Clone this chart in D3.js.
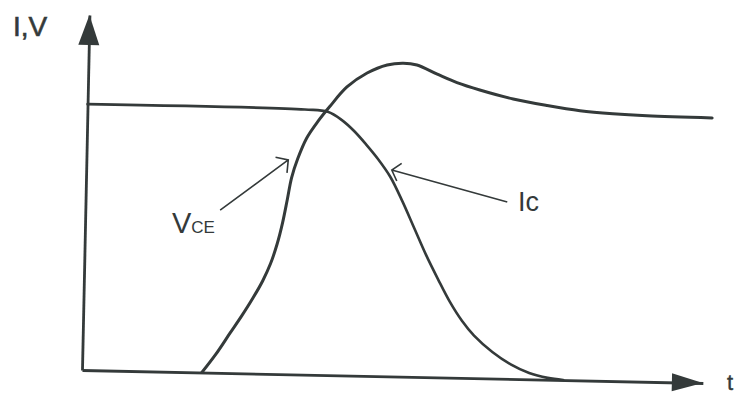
<!DOCTYPE html>
<html>
<head>
<meta charset="utf-8">
<script src="https://cdn.jsdelivr.net/npm/d3@7"></script>
<style>
  html, body { margin: 0; padding: 0; background: #ffffff; }
  svg { display: block; }
</style>
</head>
<body>
<svg id="chart" width="739" height="394"></svg>
<script>
// Turn-off transient: collector current falls while collector-emitter voltage
// rises, overshoots and settles. Values are normalised to the on-state level.
const icTime  = [0, 3.50, 3.87, 4.10, 4.30, 4.50, 4.70, 4.90, 5.10, 5.30, 5.50, 5.70, 5.90, 6.10, 6.30, 6.60, 6.90, 7.20, 7.50, 7.75];
const icValue = [1.0, 0.997, 0.99, 0.96, 0.92, 0.87, 0.815, 0.75, 0.66, 0.56, 0.46, 0.37, 0.285, 0.215, 0.16, 0.10, 0.055, 0.024, 0.007, 0];

const vceTime  = [1.93, 2.15, 2.37, 2.55, 2.73, 2.88, 3.00, 3.10, 3.18, 3.25, 3.31, 3.40, 3.54, 3.72, 3.90, 4.17, 4.49, 4.81, 5.07, 5.29, 5.62, 5.94, 6.31, 6.85, 7.40, 7.93, 8.46, 9.01, 10.06];
const vceValue = [0, 0.07, 0.15, 0.215, 0.285, 0.35, 0.415, 0.49, 0.57, 0.66, 0.74, 0.81, 0.89, 0.955, 1.01, 1.085, 1.139, 1.171, 1.179, 1.173, 1.14, 1.11, 1.084, 1.053, 1.031, 1.014, 1.005, 1.0, 0.997];

const axisLabelY = "I,V";
const axisLabelX = "t";

const ink = "#343a3a";
const svg = d3.select("#chart");

const x = d3.scaleLinear().domain([0, 10]).range([0, 621]);
const y = d3.scaleLinear().domain([0, 1.335]).range([0, -355]);

// plot frame, slightly tilted like the original drawing
const g = svg.append("g").attr("transform", "translate(82,370) rotate(1.2)");

// axes without ticks, arrow heads at the far ends
const xAxis = g.append("g").call(d3.axisBottom(x).tickValues([]).tickSizeOuter(0));
const yAxis = g.append("g").call(d3.axisLeft(y).tickValues([]).tickSizeOuter(0));
[xAxis, yAxis].forEach(a => a.select(".domain").attr("stroke", ink).attr("stroke-width", 2.8));

const xEnd = x.range()[1], yEnd = y.range()[1];
g.append("path")
  .attr("d", `M${xEnd},0 L${xEnd - 31},-9 L${xEnd - 31},9 Z`)
  .attr("fill", ink);
g.append("path")
  .attr("d", `M0,${yEnd} L-10.5,${yEnd + 30} L10.5,${yEnd + 30} Z`)
  .attr("fill", ink);

const line = d3.line()
  .x(d => x(d[0]))
  .y(d => y(d[1]))
  .curve(d3.curveCatmullRom.alpha(0.5));

const icData = icTime.map((t, i) => [t, icValue[i]]);
const vceData = vceTime.map((t, i) => [t, vceValue[i]]);

g.append("path").datum(icData)
  .attr("d", line).attr("fill", "none")
  .attr("stroke", ink).attr("stroke-width", 2.6)
  .attr("stroke-linejoin", "round").attr("stroke-linecap", "round");
g.append("path").datum(vceData)
  .attr("d", line).attr("fill", "none")
  .attr("stroke", ink).attr("stroke-width", 3)
  .attr("stroke-linejoin", "round").attr("stroke-linecap", "round");

// pointer arrows from the labels to their curves (data units)
function pointer(from, to, barb, spread) {
  const x0 = x(from[0]), y0 = y(from[1]);
  const x1 = x(to[0]),   y1 = y(to[1]);
  const ang = Math.atan2(y0 - y1, x0 - x1);
  const a = spread * Math.PI / 180;
  const p = d3.path();
  p.moveTo(x0, y0); p.lineTo(x1, y1);
  p.moveTo(x1 + barb * Math.cos(ang - a), y1 + barb * Math.sin(ang - a));
  p.lineTo(x1, y1);
  p.lineTo(x1 + barb * Math.cos(ang + a), y1 + barb * Math.sin(ang + a));
  g.append("path").attr("d", p.toString())
    .attr("fill", "none").attr("stroke", ink).attr("stroke-width", 1.6)
    .attr("stroke-linejoin", "miter");
}
pointer([2.17, 0.612], [3.25, 0.806], 13, 48);
pointer([6.79, 0.665], [4.92, 0.776], 12, 50);

// labels
const font = "'Liberation Sans', Arial, sans-serif";
svg.append("text")
  .attr("x", 13).attr("y", 36)
  .attr("font-family", font).attr("font-size", 28)
  .attr("fill", ink).attr("stroke", ink).attr("stroke-width", 0.6)
  .text(axisLabelY);

svg.append("text")
  .attr("x", 727).attr("y", 390)
  .attr("font-family", font).attr("font-size", 22)
  .attr("fill", ink).attr("stroke", ink).attr("stroke-width", 0.4)
  .text(axisLabelX);

const vce = svg.append("text")
  .attr("x", 172).attr("y", 233)
  .attr("font-family", font).attr("fill", ink);
vce.append("tspan").attr("font-size", 29).text("V");
vce.append("tspan").attr("font-size", 17).text("CE");

svg.append("text")
  .attr("x", 518).attr("y", 211)
  .attr("font-family", font).attr("font-size", 27)
  .attr("fill", ink)
  .text("Ic");
</script>
</body>
</html>
